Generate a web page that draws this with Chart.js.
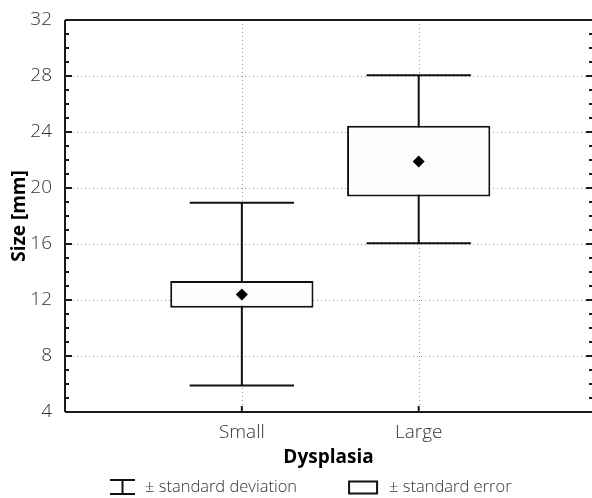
<!DOCTYPE html>
<html>
<head>
<meta charset="utf-8">
<script src="https://cdn.jsdelivr.net/npm/chart.js@4.4.1/dist/chart.umd.min.js"></script>
<style>
  html, body { margin: 0; padding: 0; background: #fff; overflow: hidden; }
  #wrap { width: 592px; height: 498px; }
</style>
</head>
<body>
<div id="wrap"><canvas id="c" width="592" height="498"></canvas></div>
<script>
// ---- data ----
const categories = ['Small', 'Large'];
const meanValues = [12.4, 21.9];
const seLower = [11.45, 19.4];
const seUpper = [13.35, 24.45];
const sdLower = [5.9, 16.05];
const sdUpper = [18.95, 28.05];
const yTickValues = [4, 8, 12, 16, 20, 24, 28, 32];
const yMinorStep = 1;
const xTitle = 'Dysplasia';
const yTitle = 'Size [mm]';
const legendLabels = ['± standard deviation', '± standard error'];

const FONT = 'Open Sans';
const TEXT_COLOR = '#333';
const LINE_COLOR = '#111';

const whiskerPlugin = {
  id: 'whiskers',
  beforeDatasetsDraw(chart) {
    const { ctx, chartArea: a, scales: { x, y } } = chart;
    ctx.save();
    // dotted grid
    ctx.strokeStyle = '#9a9a9a';
    ctx.lineWidth = 1;
    ctx.setLineDash([1, 3]);
    yTickValues.forEach(v => {
      if (v <= y.min || v >= y.max) return;
      const py = Math.round(y.getPixelForValue(v)) + 0.5;
      ctx.beginPath(); ctx.moveTo(a.left, py); ctx.lineTo(a.right, py); ctx.stroke();
    });
    categories.forEach((c, i) => {
      const px = Math.round(x.getPixelForValue(i + 1)) + 0.5;
      ctx.beginPath(); ctx.moveTo(px, a.top); ctx.lineTo(px, a.bottom); ctx.stroke();
    });
    ctx.setLineDash([]);
    // whiskers (± SD)
    ctx.strokeStyle = LINE_COLOR;
    ctx.lineWidth = 2;
    categories.forEach((c, i) => {
      const px = x.getPixelForValue(i + 1);
      const half = x.getPixelForValue(i + 1 + 0.295) - px;
      const yt = y.getPixelForValue(sdUpper[i]);
      const yb = y.getPixelForValue(sdLower[i]);
      ctx.beginPath();
      ctx.moveTo(px, yt); ctx.lineTo(px, yb);
      ctx.moveTo(px - half, yt); ctx.lineTo(px + half, yt);
      ctx.moveTo(px - half, yb); ctx.lineTo(px + half, yb);
      ctx.stroke();
    });
    ctx.restore();
  },
  afterDatasetsDraw(chart) {
    const { ctx, chartArea: a, scales: { x, y } } = chart;
    ctx.save();
    ctx.strokeStyle = '#1a1a1a';
    ctx.lineWidth = 2;
    ctx.beginPath();
    ctx.moveTo(a.left, a.top); ctx.lineTo(a.right, a.top);
    ctx.moveTo(a.left, a.top); ctx.lineTo(a.left, a.bottom);
    ctx.moveTo(a.left, a.bottom); ctx.lineTo(a.right, a.bottom);
    ctx.stroke();
    // y ticks (inward, both sides)
    for (let v = y.min; v <= y.max; v += yMinorStep) {
      const major = yTickValues.includes(v);
      const len = major ? 7 : 4;
      const py = y.getPixelForValue(v);
      ctx.beginPath();
      ctx.moveTo(a.left, py); ctx.lineTo(a.left + len, py);
      ctx.moveTo(a.right, py); ctx.lineTo(a.right - len + 1, py);
      ctx.stroke();
    }
    categories.forEach((c, i) => {
      const px = x.getPixelForValue(i + 1);
      ctx.beginPath(); ctx.moveTo(px, a.bottom); ctx.lineTo(px, a.bottom - 6); ctx.stroke();
    });
    ctx.restore();
  },
  afterDraw(chart) {
    const { ctx } = chart;
    ctx.save();
    ctx.font = '300 16.5px "' + FONT + '"';
    ctx.fillStyle = TEXT_COLOR;
    ctx.textBaseline = 'middle';
    const cy = 487;
    let xPos = 110;
    // SD icon
    ctx.strokeStyle = LINE_COLOR;
    ctx.lineWidth = 2;
    ctx.beginPath();
    ctx.moveTo(xPos, cy - 7); ctx.lineTo(xPos + 25, cy - 7);
    ctx.moveTo(xPos + 12.5, cy - 7); ctx.lineTo(xPos + 12.5, cy + 7);
    ctx.moveTo(xPos, cy + 7); ctx.lineTo(xPos + 25, cy + 7);
    ctx.stroke();
    xPos += 35;
    ctx.fillText(legendLabels[0], xPos, cy);
    xPos += ctx.measureText(legendLabels[0]).width + 52;
    // SE icon
    ctx.fillStyle = '#fdfdfd';
    ctx.fillRect(xPos, cy - 5.5, 28, 12);
    ctx.strokeRect(xPos, cy - 5.5, 28, 12);
    ctx.fillStyle = TEXT_COLOR;
    xPos += 40;
    ctx.fillText(legendLabels[1], xPos, cy);
    ctx.restore();
  }
};

new Chart(document.getElementById('c'), {
  type: 'bar',
  data: {
    datasets: [
      {
        type: 'scatter',
        label: 'Mean',
        data: categories.map((c, i) => ({ x: i + 1, y: meanValues[i] })),
        pointStyle: 'rectRot',
        pointRadius: 6,
        backgroundColor: '#000',
        borderColor: '#000',
        borderWidth: 0,
        order: 1
      },
      {
        type: 'bar',
        label: '± standard error',
        data: categories.map((c, i) => ({ x: i + 1, y: [seLower[i], seUpper[i]] })),
        backgroundColor: '#fdfdfd',
        borderColor: LINE_COLOR,
        borderWidth: 2,
        borderSkipped: false,
        barPercentage: 0.81,
        categoryPercentage: 1,
        order: 2
      }
    ]
  },
  options: {
    responsive: false,
    animation: false,
    devicePixelRatio: 1,
    layout: { autoPadding: false, padding: { top: 20, left: 0, right: 0, bottom: 0 } },
    plugins: { legend: { display: false }, tooltip: { enabled: false } },
    scales: {
      x: {
        type: 'linear',
        offset: false,
        min: 0,
        max: 2.98,
        afterBuildTicks: s => { s.ticks = categories.map((c, i) => ({ value: i + 1 })); },
        afterFit: s => { s.height = 86; s.paddingRight = 0; s.paddingLeft = 0; },
        ticks: {
          callback: v => categories[v - 1],
          font: { family: FONT, size: 19, weight: 300 },
          color: TEXT_COLOR,
          padding: 1,
          maxRotation: 0,
          autoSkip: false
        },
        grid: { display: false },
        border: { display: false },
        title: {
          display: true,
          text: xTitle,
          font: { family: FONT, size: 19, weight: 'bold' },
          color: '#000',
          padding: { top: 0, bottom: 29 }
        }
      },
      y: {
        type: 'linear',
        min: 4,
        max: 32,
        afterBuildTicks: s => { s.ticks = yTickValues.map(v => ({ value: v })); },
        afterFit: s => { s.width = 65; },
        ticks: {
          font: { family: FONT, size: 19, weight: 300 },
          color: TEXT_COLOR,
          padding: 5
        },
        grid: { display: false },
        border: { display: false },
        title: {
          display: true,
          text: yTitle,
          font: { family: FONT, size: 19, weight: 'bold' },
          color: '#000',
          padding: { top: 8, bottom: 0 }
        }
      }
    }
  },
  plugins: [whiskerPlugin]
});
</script>
</body>
</html>
